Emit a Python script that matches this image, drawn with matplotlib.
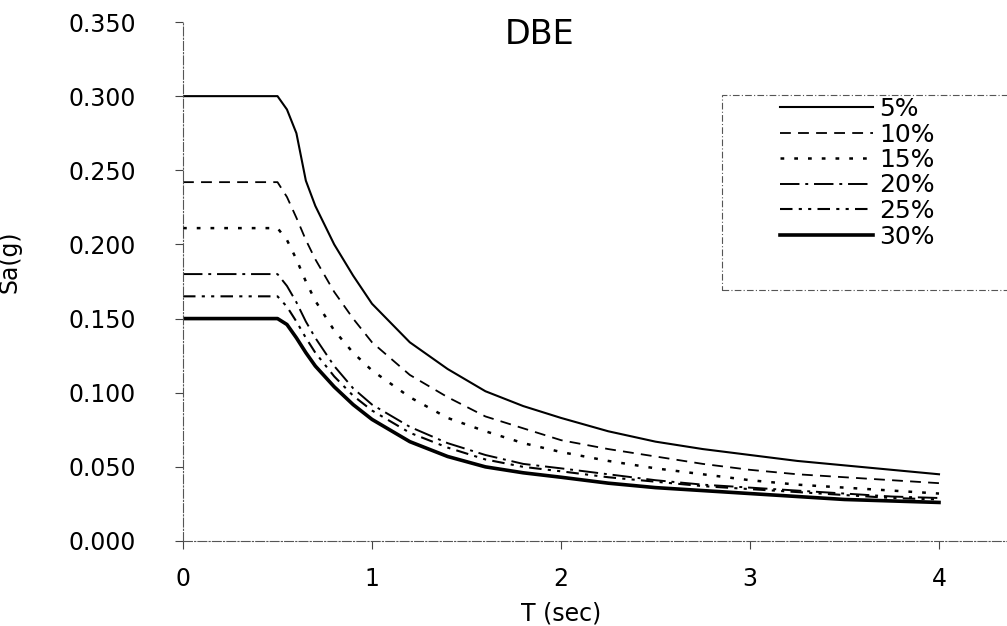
import matplotlib
matplotlib.use("Agg")
import matplotlib.pyplot as plt
from matplotlib.patches import Rectangle

plt.rcParams['font.family'] = ['DejaVu Sans']

# Period (sec)
T = [0, 0.5, 0.55, 0.6, 0.65, 0.7, 0.8, 0.9, 1.0, 1.2, 1.4, 1.6, 1.8, 2.0,
     2.25, 2.5, 2.75, 3.0, 3.25, 3.5, 3.75, 4.0]

sa_5 = [0.300, 0.300, 0.291, 0.275, 0.243, 0.226, 0.200, 0.179, 0.160, 0.134, 0.116,
        0.101, 0.091, 0.083, 0.074, 0.067, 0.062, 0.058, 0.054, 0.051, 0.048, 0.045]
sa_10 = [0.242, 0.242, 0.232, 0.218, 0.203, 0.190, 0.168, 0.150, 0.134, 0.112, 0.097,
         0.084, 0.076, 0.068, 0.062, 0.057, 0.052, 0.048, 0.045, 0.043, 0.041, 0.039]
sa_15 = [0.211, 0.211, 0.203, 0.190, 0.175, 0.162, 0.142, 0.127, 0.115, 0.097, 0.083,
         0.074, 0.066, 0.060, 0.054, 0.049, 0.045, 0.041, 0.038, 0.036, 0.034, 0.032]
sa_20 = [0.180, 0.180, 0.172, 0.161, 0.148, 0.137, 0.118, 0.103, 0.092, 0.077, 0.066,
         0.058, 0.052, 0.049, 0.045, 0.041, 0.038, 0.036, 0.034, 0.032, 0.030, 0.029]
sa_25 = [0.165, 0.165, 0.158, 0.148, 0.137, 0.127, 0.111, 0.098, 0.088, 0.073, 0.063,
         0.055, 0.050, 0.047, 0.043, 0.040, 0.037, 0.035, 0.033, 0.031, 0.029, 0.028]
sa_30 = [0.150, 0.150, 0.146, 0.137, 0.127, 0.118, 0.104, 0.092, 0.082, 0.067, 0.057,
         0.050, 0.046, 0.043, 0.039, 0.036, 0.034, 0.032, 0.030, 0.028, 0.027, 0.026]

labels = ["5%", "10%", "15%", "20%", "25%", "30%"]
series = [sa_5, sa_10, sa_15, sa_20, sa_25, sa_30]

xticks = [0, 1, 2, 3, 4]
yticks = [0.0, 0.05, 0.10, 0.15, 0.20, 0.25, 0.30, 0.35]

styles = [
    dict(linestyle='-', linewidth=1.5),
    dict(linestyle=(0, (6, 4)), linewidth=1.3),
    dict(linestyle=(0, (1.5, 4)), linewidth=1.8),
    dict(linestyle=(0, (10, 3, 1.5, 3)), linewidth=1.4),
    dict(linestyle=(0, (6, 3, 1.5, 3, 1.5, 3)), linewidth=1.5),
    dict(linestyle='-', linewidth=2.6),
]

W, H = 1007, 626
fig = plt.figure(figsize=(W / 100, H / 100), dpi=100)
x0, x1, y0, y1 = 183, 1007, 541, 22
ax = fig.add_axes([x0 / W, 1 - y0 / H, (x1 - x0) / W, (y0 - y1) / H])

handles = []
for s, lab, st in zip(series, labels, styles):
    h, = ax.plot(T, s, color='black', label=lab, **st)
    handles.append(h)

ax.set_xlim(0, (x1 - x0) / 189.0)
ax.set_ylim(0, 0.35)
ax.set_xticks(xticks)
ax.set_yticks(yticks)
ax.set_yticklabels([f"{v:.3f}" for v in yticks])
ax.tick_params(axis='both', labelsize=17, direction='out', length=6, width=0.8,
               color='#444444')
ax.tick_params(axis='x', pad=13)
ax.tick_params(axis='y', pad=28)

for side in ['top', 'right']:
    ax.spines[side].set_visible(False)
for side in ['left', 'bottom']:
    ax.spines[side].set_linestyle((0, (8, 2, 1, 2)))
    ax.spines[side].set_linewidth(0.8)
    ax.spines[side].set_color('#555555')

ax.set_xlabel("T (sec)", fontsize=17)
ax.xaxis.set_label_coords((561 - x0) / (x1 - x0), (y0 - 602) / (y0 - y1))
ax.set_ylabel("Sa(g)", fontsize=17)
ax.yaxis.set_label_coords((22 - x0) / (x1 - x0), (y0 - 262) / (y0 - y1))

ax.text((540 - x0) / (x1 - x0), (y0 - 35) / (y0 - y1), "DBE", transform=ax.transAxes,
        fontsize=24, ha='center', va='center')

# legend frame drawn as a rectangle in figure pixels
fig.patches.append(Rectangle((722 / W, 1 - 290 / H), 300 / W, 195 / H,
                             transform=fig.transFigure, fill=False,
                             edgecolor='#555555', linewidth=0.8,
                             linestyle=(0, (6, 2, 1, 2))))
leg = fig.legend(handles=handles, loc='upper left',
                 bbox_to_anchor=(780 / W, 1 - 97 / H),
                 frameon=False, fontsize=18, handlelength=3.7, handletextpad=0.25,
                 labelspacing=0.06, borderpad=0.0, borderaxespad=0.0)

fig.savefig("out.png", dpi=100)
